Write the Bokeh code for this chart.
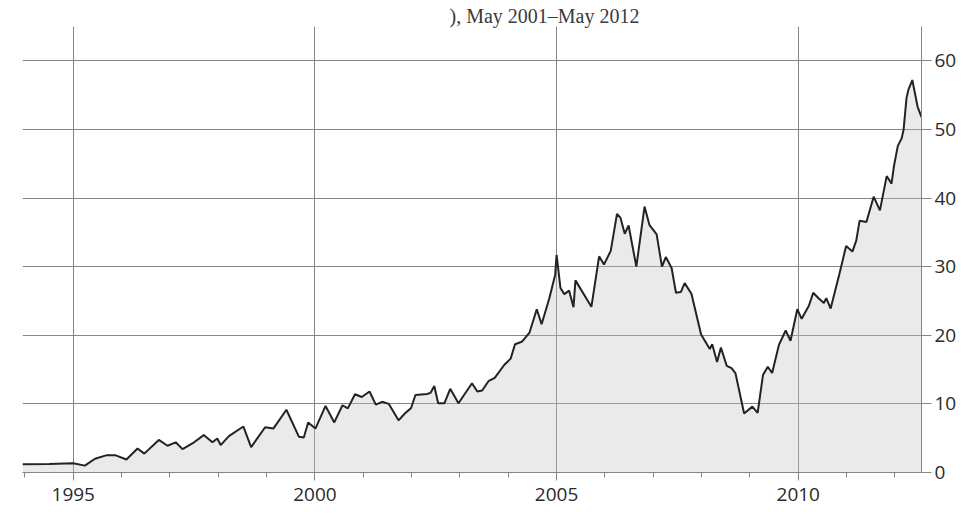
from bokeh.plotting import figure
from bokeh.models import Range1d, FixedTicker, ColumnDataSource
from bokeh.embed import file_html
from bokeh.resources import INLINE

# ---- data ----
years = [1993.95, 1994.50, 1995.00, 1995.24, 1995.45, 1995.68, 1995.88, 1996.10, 1996.33, 1996.47,
         1996.77, 1996.95, 1997.12, 1997.26, 1997.50, 1997.70, 1997.88, 1997.98, 1998.05, 1998.22,
         1998.52, 1998.68, 1998.97, 1999.14, 1999.41, 1999.67, 1999.77, 1999.86, 2000.01, 2000.22,
         2000.40, 2000.57, 2000.68, 2000.83, 2000.97, 2001.13, 2001.26, 2001.39, 2001.53, 2001.73,
         2001.86, 2001.99, 2002.08, 2002.32, 2002.39, 2002.47, 2002.55, 2002.68, 2002.80, 2002.97,
         2003.25, 2003.36, 2003.46, 2003.59, 2003.72, 2003.92, 2004.05, 2004.14, 2004.28, 2004.44,
         2004.59, 2004.69, 2004.85, 2004.97, 2005.00, 2005.08, 2005.16, 2005.26, 2005.35, 2005.39,
         2005.72, 2005.88, 2005.98, 2006.12, 2006.25, 2006.32, 2006.41, 2006.49, 2006.65, 2006.82,
         2006.92, 2007.07, 2007.18, 2007.26, 2007.38, 2007.47, 2007.57, 2007.65, 2007.79, 2007.99,
         2008.17, 2008.22, 2008.32, 2008.40, 2008.52, 2008.62, 2008.70, 2008.88, 2009.05, 2009.16,
         2009.27, 2009.37, 2009.46, 2009.60, 2009.74, 2009.84, 2009.98, 2010.07, 2010.22, 2010.31,
         2010.42, 2010.53, 2010.58, 2010.67, 2010.85, 2010.99, 2011.12, 2011.20, 2011.27, 2011.41,
         2011.56, 2011.69, 2011.83, 2011.93, 2011.98, 2012.06, 2012.14, 2012.18, 2012.24, 2012.28,
         2012.36, 2012.47, 2012.55]
values = [1.2, 1.25, 1.35, 1.0, 2.0, 2.5, 2.5, 1.9, 3.5, 2.75,
          4.75, 3.9, 4.4, 3.4, 4.4, 5.45, 4.4, 4.95, 4.0, 5.3,
          6.7, 3.7, 6.6, 6.4, 9.15, 5.2, 5.1, 7.3, 6.4, 9.7,
          7.3, 9.8, 9.35, 11.4, 11.0, 11.8, 9.9, 10.3, 10.0, 7.6,
          8.6, 9.4, 11.3, 11.45, 11.6, 12.6, 10.1, 10.1, 12.2, 10.1,
          13.0, 11.8, 11.95, 13.3, 13.8, 15.7, 16.6, 18.7, 19.05, 20.4,
          23.8, 21.6, 25.4, 28.8, 31.7, 26.9, 26.0, 26.5, 24.1, 28.0,
          24.15, 31.5, 30.3, 32.3, 37.7, 37.15, 34.8, 36.0, 30.0, 38.75,
          36.1, 34.7, 30.0, 31.4, 29.8, 26.2, 26.3, 27.6, 26.05, 20.1,
          18.0, 18.7, 16.1, 18.2, 15.55, 15.2, 14.5, 8.6, 9.6, 8.7,
          14.2, 15.4, 14.5, 18.6, 20.7, 19.2, 23.8, 22.4, 24.3, 26.2,
          25.4, 24.7, 25.4, 23.9, 28.9, 33.0, 32.2, 33.8, 36.7, 36.5,
          40.2, 38.2, 43.2, 42.1, 44.65, 47.6, 48.7, 50.0, 54.6, 55.8,
          57.2, 53.3, 51.8]
x_ticks = [1995, 2000, 2005, 2010]
x_minor_ticks = [1994, 1996, 1997, 1998, 1999, 2001, 2002, 2003, 2004,
                 2006, 2007, 2008, 2009, 2011, 2012]
y_ticks = [0, 10, 20, 30, 40, 50, 60]
title_text = "), May 2001\u2013May 2012"

GRID = "#858585"
FONT = "Open Sans"

src = ColumnDataSource(data=dict(x=years, y=values))

p = figure(frame_width=899, frame_height=446,
           min_border_left=22, min_border_top=26, min_border_right=49, min_border_bottom=54,
           x_range=Range1d(1993.95, 2012.55), y_range=Range1d(0, 65),
           y_axis_location="right", output_backend="svg", toolbar_location=None,
           background_fill_color="white", border_fill_color="white")
p.outline_line_color = None

# title (partly cut at the top in the reference)
p.title.text = title_text
p.title.align = "left"
p.title.offset = 427
p.title.standoff = 0
p.title.text_font = "Liberation Serif"
p.title.text_font_size = "20px"
p.title.text_font_style = "normal"
p.title.text_color = "#3a3a3a"

p.varea(x="x", y1=0, y2="y", source=src, fill_color="#c2c2c2", fill_alpha=0.35)
p.line(x="x", y="y", source=src, line_color="#232323", line_width=2)

# x axis
p.xaxis.ticker = FixedTicker(ticks=x_ticks, minor_ticks=x_minor_ticks)
p.xaxis.axis_line_color = GRID
p.xaxis.major_tick_line_color = GRID
p.xaxis.minor_tick_line_color = GRID
p.xaxis.major_tick_out = 8
p.xaxis.major_tick_in = 0
p.xaxis.minor_tick_out = 5
p.xaxis.minor_tick_in = 0
p.xaxis.major_label_standoff = 7
p.xaxis.major_label_text_font = FONT
p.xaxis.major_label_text_font_size = "19px"
p.xaxis.major_label_text_color = "#2a2a2a"

# y axis (right)
p.yaxis.ticker = FixedTicker(ticks=y_ticks)
p.yaxis.axis_line_color = GRID
p.yaxis.major_tick_line_color = GRID
p.yaxis.minor_tick_line_color = None
p.yaxis.major_tick_out = 10
p.yaxis.major_tick_in = 0
p.yaxis.major_label_standoff = 3
p.yaxis.major_label_text_font = FONT
p.yaxis.major_label_text_font_size = "19px"
p.yaxis.major_label_text_color = "#2a2a2a"

p.xgrid.grid_line_color = GRID
p.ygrid.grid_line_color = GRID
p.xgrid.grid_line_width = 1
p.ygrid.grid_line_width = 1

open("out.html", "w").write(file_html(p, INLINE))
